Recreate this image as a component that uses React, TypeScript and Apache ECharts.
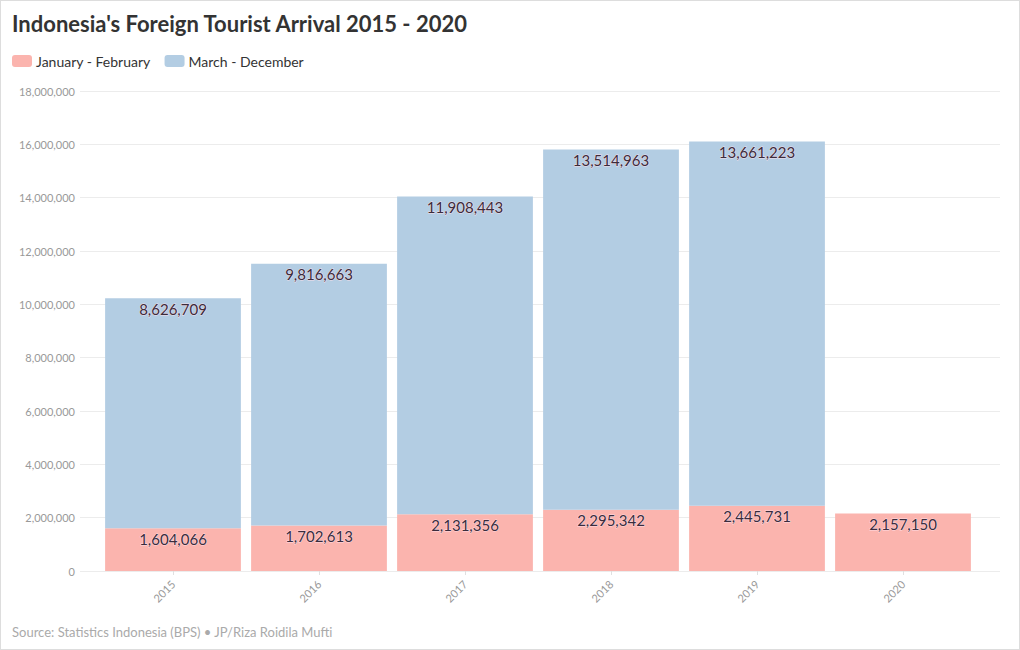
import React, { useEffect, useRef } from "react";
import * as echarts from "echarts";

const years = ["2015", "2016", "2017", "2018", "2019", "2020"];
const janFeb = [1604066, 1702613, 2131356, 2295342, 2445731, 2157150];
const marDec: (number | null)[] = [8626709, 9816663, 11908443, 13514963, 13661223, null];
const seriesNames = ["January - February", "March - December"];
const colors = ["#fbb4ae", "#b3cde3"];

const FONT = "Lato, 'Noto Sans', sans-serif";

export default function App() {
  const ref = useRef<HTMLDivElement>(null);
  useEffect(() => {
    if (!ref.current) return;
    const chart = echarts.init(ref.current, undefined, { renderer: "svg" });
    const fmt = (v: number) => v.toLocaleString("en-US");
    const label = {
      show: true,
      position: "insideTop" as const,
      distance: 3,
      fontFamily: FONT,
      fontSize: 15,
      color: "#3a2c3c",
      textBorderColor: "rgba(255,225,235,0.85)",
      textBorderWidth: 1,
      formatter: (p: any) => (p.value == null ? "" : fmt(p.value)),
    };
    chart.setOption({
      animation: false,
      textStyle: { fontFamily: FONT },
      title: {
        text: "Indonesia's Foreign Tourist Arrival 2015 - 2020",
        left: 6,
        top: 6,
        textStyle: { fontFamily: FONT, fontSize: 22, fontWeight: "bold", color: "#333" },
      },
      legend: {
        left: 6,
        top: 48,
        itemWidth: 20,
        itemHeight: 12,
        itemGap: 14,
        icon: "roundRect",
        textStyle: { fontFamily: FONT, fontSize: 14, color: "#333", padding: [0, 0, 0, -1] },
        data: seriesNames,
      },
      grid: [
        { left: 79, right: 19, top: 90, bottom: 78 },
        { left: 99, right: 43, top: 90, bottom: 78 },
      ],
      xAxis: [
        { type: "category", gridIndex: 0, show: false, data: years },
        {
          type: "category",
          gridIndex: 1,
          data: years,
          axisLine: { show: false },
          axisTick: { show: true, alignWithLabel: true, length: 4, lineStyle: { color: "#e0e0e0" } },
          axisLabel: { rotate: 45, color: "#999", fontSize: 11, fontFamily: FONT, margin: 11 },
        },
      ],
      yAxis: [
        {
          type: "value",
          gridIndex: 0,
          min: 0,
          max: 18000000,
          interval: 2000000,
          axisLine: { show: false },
          axisTick: { show: false },
          axisLabel: { color: "#999", fontSize: 11, fontFamily: FONT, margin: 5, formatter: (v: number) => fmt(v) },
          splitLine: { lineStyle: { color: "#ececec" } },
        },
        { type: "value", gridIndex: 1, min: 0, max: 18000000, interval: 2000000, show: false, splitLine: { show: false } },
      ],
      series: [
        {
          name: seriesNames[0],
          type: "bar",
          stack: "total",
          xAxisIndex: 1,
          yAxisIndex: 1,
          data: janFeb,
          barCategoryGap: "7%",
          itemStyle: { color: colors[0] },
          label,
        },
        {
          name: seriesNames[1],
          type: "bar",
          stack: "total",
          xAxisIndex: 1,
          yAxisIndex: 1,
          data: marDec,
          barCategoryGap: "7%",
          itemStyle: { color: colors[1] },
          label,
        },
      ],
      graphic: [
        {
          type: "text",
          left: 11,
          top: 624,
          style: {
            text: "Source: Statistics Indonesia (BPS) • JP/Riza Roidila Mufti",
            fontFamily: FONT,
            fontSize: 13,
            fill: "#aaa",
          },
        },
      ],
    });
    return () => chart.dispose();
  }, []);
  return (
    <div
      style={{
        position: "absolute",
        left: 0,
        top: 0,
        width: 1020,
        height: 650,
        boxSizing: "border-box",
        border: "1px solid #ddd",
        background: "#fff",
      }}
    >
      <div ref={ref} style={{ width: 1018, height: 648 }} />
    </div>
  );
}
